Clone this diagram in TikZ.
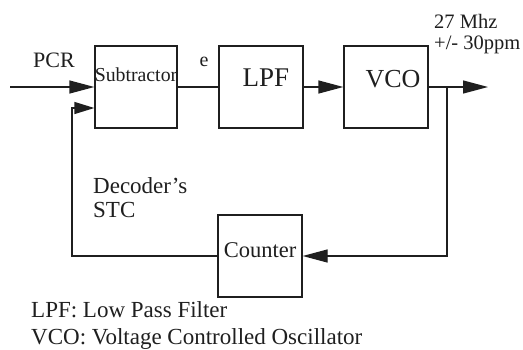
\documentclass[tikz,border=0pt]{standalone}
\usepackage{fontspec}
\setmainfont{Liberation Serif}
\usetikzlibrary{arrows.meta}
\definecolor{ink}{gray}{0.12}
\begin{document}
\begin{tikzpicture}[x=1pt,y=-1pt,
  blk/.style={draw=ink,line width=1.3pt,minimum width=84pt,minimum height=82pt,inner sep=0pt},
  txt/.style={inner sep=0pt,text=ink},
  lbl/.style={txt,anchor=base west},
  wire/.style={draw=ink,line width=1.3pt},
  arr/.style={wire,-{Triangle[length=25pt,width=13pt]}}]
\useasboundingbox (0,0) rectangle (523,349);
\fill[white] (0,0) rectangle (523,349);
% blocks
\node[blk,minimum width=82pt] (sub) at (136,87) {};
\node[blk] (lpf) at (261,87) {};
\node[blk] (vco) at (386,87) {};
\node[blk] (cnt) at (260,256) {};
% block texts
\node[txt,font=\fontsize{19.8}{20}\selectfont] (subt) at ([yshift=12pt]sub.center) {Subtractor};
\node[txt,font=\fontsize{27}{28}\selectfont] (lpft) at ([xshift=5pt,yshift=9pt]lpf.center) {LPF};
\node[txt,font=\fontsize{26}{28}\selectfont] (vcot) at ([xshift=7pt,yshift=8pt]vco.center) {VCO};
\node[txt,font=\fontsize{22.5}{24}\selectfont] (cntt) at ([yshift=6pt]cnt.center) {Counter};
% connectors
\coordinate (in) at (10,87);
\draw[arr] (in) -- (in -| sub.west);
\draw[wire] (sub.east) -- (lpf.west);
\draw[arr] (lpf) -- (vco);
\coordinate (out) at (488,87);
\draw[arr] (vco) -- (out);
\coordinate (br) at (447,87);
\draw[arr] (br) |- (cnt.east);
\coordinate (fb) at (72,108);
\draw[wire,-{Triangle[length=20pt,width=12pt]}] (cnt.west) -| (fb) -- (fb -| sub.west);
% labels
\node[txt,font=\fontsize{22}{24}\selectfont] (pcr) at (54,60) {PCR};
\node[txt,font=\fontsize{20}{22}\selectfont] (e) at (204,61.5) {e};
\node[lbl,font=\fontsize{20.5}{22}\selectfont] (f1) at (434,28) {27 Mhz};
\node[lbl,font=\fontsize{20.5}{22}\selectfont] (f2) at (434,49) {+/- 30ppm};
\node[lbl,font=\fontsize{23}{24}\selectfont] (d1) at (93,193) {Decoder’s};
\node[lbl,font=\fontsize{23}{24}\selectfont] (d2) at (93,217) {STC};
\node[lbl,font=\fontsize{23}{24}\selectfont] (g1) at (31,317) {LPF: Low Pass Filter};
\node[lbl,font=\fontsize{23}{24}\selectfont] (g2) at (31,344) {VCO: Voltage Controlled Oscillator};
\end{tikzpicture}
\end{document}
